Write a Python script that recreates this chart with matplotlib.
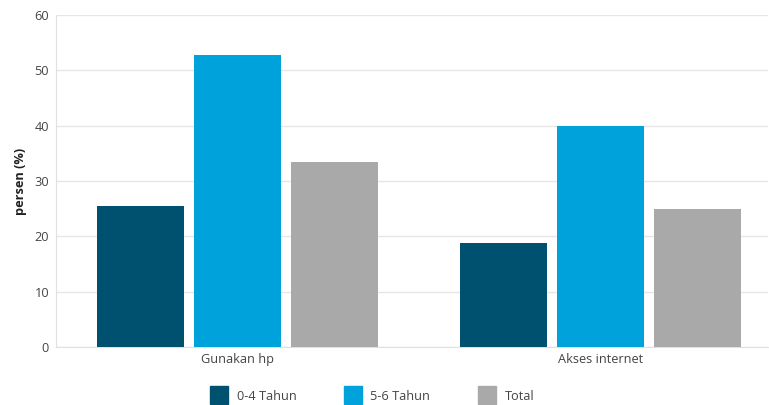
import matplotlib
matplotlib.use("Agg")
import matplotlib.pyplot as plt
import numpy as np
from matplotlib.lines import Line2D

categories = ["Gunakan hp", "Akses internet"]
series_names = ["0-4 Tahun", "5-6 Tahun", "Total"]
val_04 = [25.4, 18.8]
val_56 = [52.7, 40.0]
val_total = [33.4, 25.0]
colors = ["#00516f", "#00a2dc", "#a9a9aa"]
yticks = [0, 10, 20, 30, 40, 50, 60]

plt.rcParams['font.family'] = ['Open Sans', 'DejaVu Sans']

W, H = 769, 405
fig = plt.figure(figsize=(W/100, H/100), dpi=100)
left, right, top, bottom = 56, 768, 15, 347
ax = fig.add_axes([left/W, 1-bottom/H, (right-left)/W, (bottom-top)/H])

band = 363.0
x = np.arange(len(categories))
bw = 87/band
step = 97/band
for i, (vals, c) in enumerate(zip([val_04, val_56, val_total], colors)):
    ax.bar(x + (i-1)*step, vals, width=bw, color=c, label=series_names[i], zorder=3)

ax.set_xlim(-0.5, -0.5 + (right-left)/band)
ax.set_ylim(0, 60)
ax.set_yticks(yticks)
ax.set_xticks(x)
ax.set_xticklabels(categories)
ax.grid(axis='y', color='#e6e6e6', linewidth=1, zorder=0)
for s in ['top', 'right']:
    ax.spines[s].set_visible(False)
for s in ['left', 'bottom']:
    ax.spines[s].set_color('#e0e0e0')
ax.tick_params(axis='both', length=0, labelsize=9.2, labelcolor='#444444')
ax.tick_params(axis='y', pad=5)
ax.tick_params(axis='x', pad=4)
ax.set_ylabel("persen (%)", fontsize=9.2, fontweight='bold', color='#222222', labelpad=5)

handles = [Line2D([0], [0], marker='s', linestyle='none', markersize=13,
                  markerfacecolor=c, markeredgecolor=c) for c in colors]
fig.legend(handles, series_names, loc='center', bbox_to_anchor=(370/W, 1-396/H),
           ncol=3, frameon=False, fontsize=9.2, columnspacing=3.4, handletextpad=0.4,
           labelcolor='#444444')

fig.savefig("out.png", dpi=100)
